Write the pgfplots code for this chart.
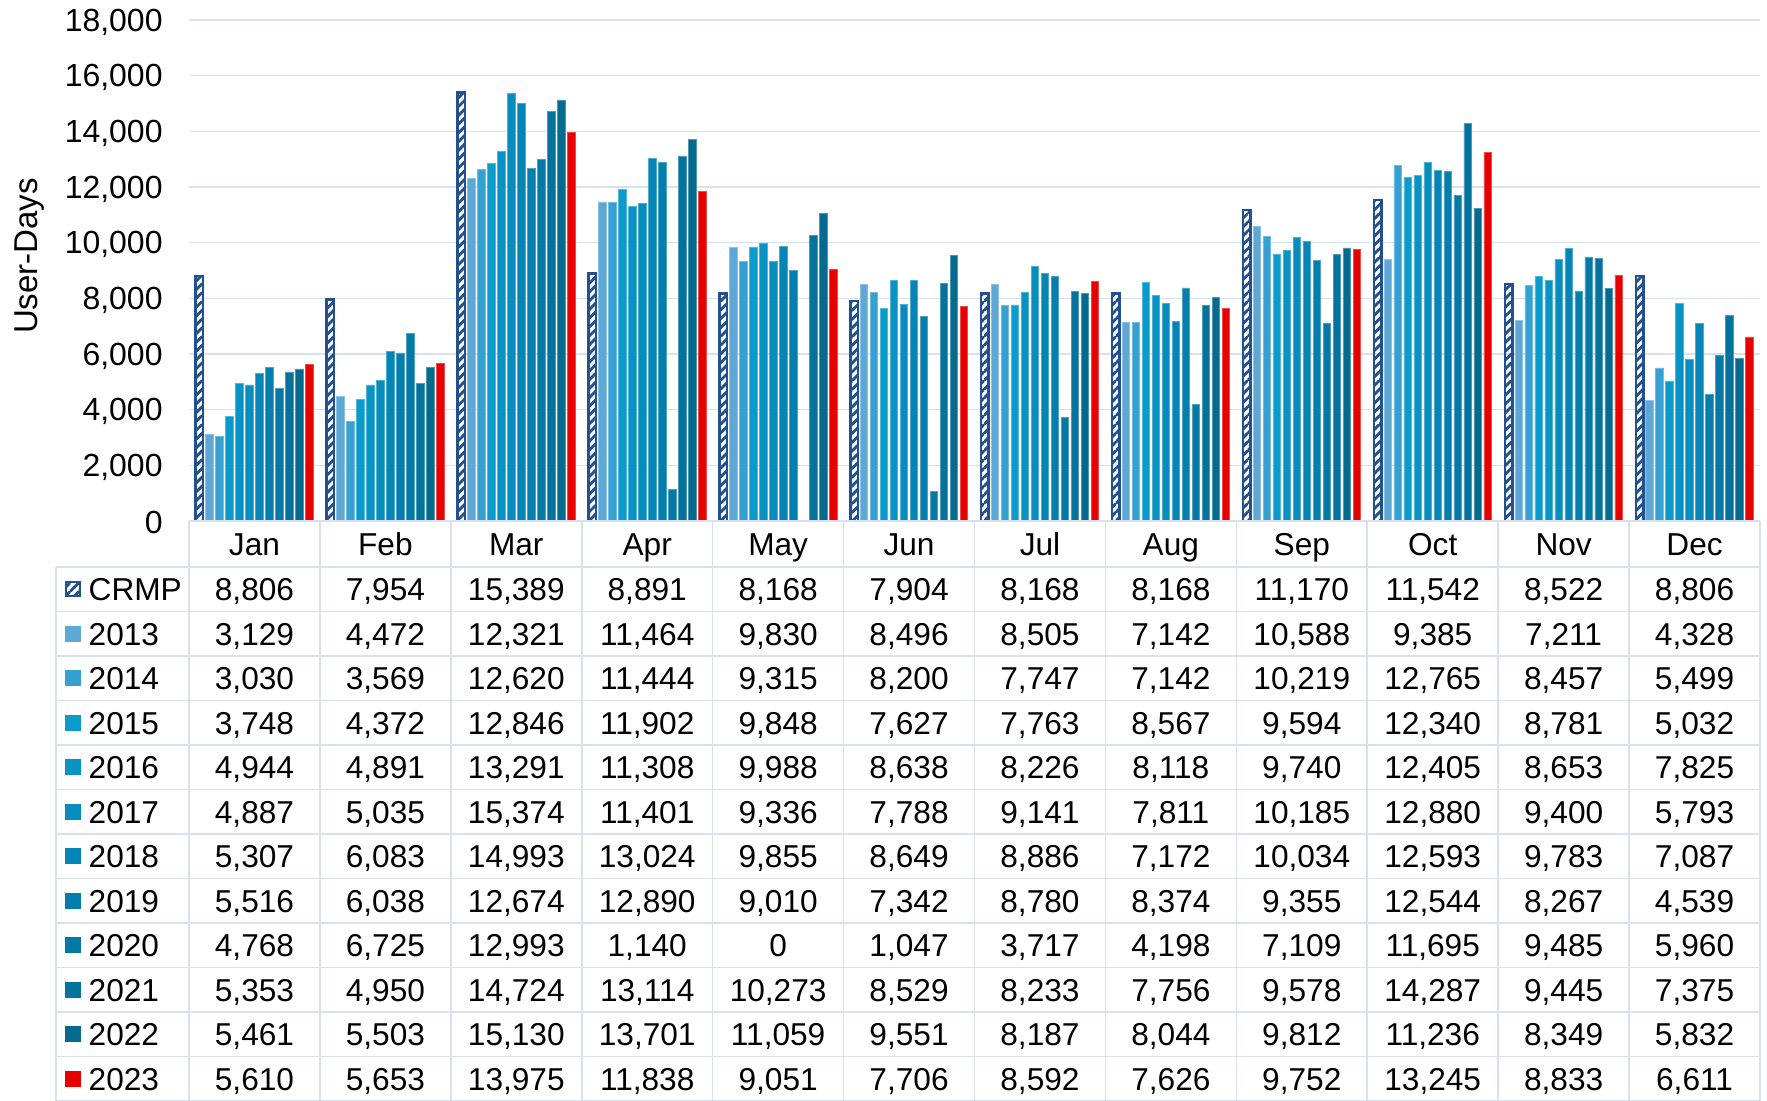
\documentclass[border=0pt]{standalone}
\usepackage{fontspec}
\setmainfont{Liberation Sans}
\usepackage{pgfplots}
\pgfplotsset{compat=1.18}
\usepackage{pgfplotstable}
\usetikzlibrary{patterns.meta}

\definecolor{crmpblue}{HTML}{23508F}
\definecolor{c13}{HTML}{5DA8D5}
\definecolor{c14}{HTML}{35A0D2}
\definecolor{c15}{HTML}{0A9BCD}
\definecolor{c16}{HTML}{0893C5}
\definecolor{c17}{HTML}{068CBD}
\definecolor{c18}{HTML}{0585B5}
\definecolor{c19}{HTML}{047FAD}
\definecolor{c20}{HTML}{0479A5}
\definecolor{c21}{HTML}{03729D}
\definecolor{c22}{HTML}{046A8E}
\definecolor{c23}{HTML}{E60000}
\definecolor{gridc}{HTML}{D6E2F2}

\tikzdeclarepattern{
  name=crmp,
  bottom left={(-0.1pt,-0.1pt)},
  top right={(2.6pt,2.6pt)},
  tile size={(2.5pt,2.5pt)},
  code={\draw[line width=0.8pt] (-0.1pt,-0.1pt) -- (2.6pt,2.6pt);}
}

\pgfplotstableread{
x crmp y13 y14 y15 y16 y17 y18 y19 y20 y21 y22 y23
0 8806 3129 3030 3748 4944 4887 5307 5516 4768 5353 5461 5610
1 7954 4472 3569 4372 4891 5035 6083 6038 6725 4950 5503 5653
2 15389 12321 12620 12846 13291 15374 14993 12674 12993 14724 15130 13975
3 8891 11464 11444 11902 11308 11401 13024 12890 1140 13114 13701 11838
4 8168 9830 9315 9848 9988 9336 9855 9010 0 10273 11059 9051
5 7904 8496 8200 7627 8638 7788 8649 7342 1047 8529 9551 7706
6 8168 8505 7747 7763 8226 9141 8886 8780 3717 8233 8187 8592
7 8168 7142 7142 8567 8118 7811 7172 8374 4198 7756 8044 7626
8 11170 10588 10219 9594 9740 10185 10034 9355 7109 9578 9812 9752
9 11542 9385 12765 12340 12405 12880 12593 12544 11695 14287 11236 13245
10 8522 7211 8457 8781 8653 9400 9783 8267 9485 9445 8349 8833
11 8806 4328 5499 5032 7825 5793 7087 4539 5960 7375 5832 6611
}\datatable

\begin{document}
\begin{tikzpicture}[font=\fontsize{9}{11}\selectfont]
\begin{axis}[
  name=a,
  scale only axis,
  width=157.1mm, height=50.1mm,
  xmin=-0.5, xmax=11.5,
  ymin=0, ymax=18000,
  ytick={0,2000,...,18000},
  xtick=\empty,
  axis line style={draw=none},
  major tick length=0pt,
  ymajorgrids,
  grid style={gridc, line width=0.45pt},
  scaled y ticks=false,
  yticklabel style={/pgf/number format/1000 sep={,}, /pgf/number format/fixed, /pgf/number format/precision=0, /pgf/number format/assume math mode=true, xshift=-1.4mm, yshift=-0.2mm, font=\fontsize{9.1}{10}\selectfont},
  ylabel={User-Days},
  ylabel style={at={(axis description cs:-0.1012,0.529)}, anchor=center, font=\fontsize{9.4}{11}\selectfont},
  ybar=0.25mm,
  bar width=0.75mm,
]
\addplot[fill=white, pattern=crmp, pattern color=crmpblue, draw=crmpblue, line width=0.7pt] table[x=x, y=crmp]{\datatable};
\addplot[fill=c13, draw=c13!70!white, line width=0.2pt] table[x=x, y=y13]{\datatable};
\addplot[fill=c14, draw=c14!70!white, line width=0.2pt] table[x=x, y=y14]{\datatable};
\addplot[fill=c15, draw=c15!70!white, line width=0.2pt] table[x=x, y=y15]{\datatable};
\addplot[fill=c16, draw=c16!70!white, line width=0.2pt] table[x=x, y=y16]{\datatable};
\addplot[fill=c17, draw=c17!70!white, line width=0.2pt] table[x=x, y=y17]{\datatable};
\addplot[fill=c18, draw=c18!70!white, line width=0.2pt] table[x=x, y=y18]{\datatable};
\addplot[fill=c19, draw=c19!70!white, line width=0.2pt] table[x=x, y=y19]{\datatable};
\addplot[fill=c20, draw=c20!70!white, line width=0.2pt] table[x=x, y=y20]{\datatable};
\addplot[fill=c21, draw=c21!70!white, line width=0.2pt] table[x=x, y=y21]{\datatable};
\addplot[fill=c22, draw=c22!70!white, line width=0.2pt] table[x=x, y=y22]{\datatable};
\addplot[fill=c23, draw=c23!70!white, line width=0.2pt] table[x=x, y=y23]{\datatable};
\end{axis}

\begin{scope}[shift={(a.south west)}, x=1mm, y=1mm]
  % table grid
  \draw[gridc, line width=0.45pt] (0,0) -- (157.1,0);
  \foreach \k in {0,...,12} {
    \draw[gridc, line width=0.45pt] (-13.3,{-(4.6+4.45*\k)}) -- (157.1,{-(4.6+4.45*\k)});
  }
  \foreach \j in {0,...,12} {
    \draw[gridc, line width=0.45pt] ({13.0917*\j},0) -- ({13.0917*\j},-58);
  }
  \draw[gridc, line width=0.45pt] (-13.3,-4.6) -- (-13.3,-58);
  % month header
  \foreach \m [count=\i from 0] in {Jan,Feb,Mar,Apr,May,Jun,Jul,Aug,Sep,Oct,Nov,Dec} {
    \node[inner sep=0pt, anchor=base] at ({13.0917*(\i+0.5)},{-2.3-1.15}) {\m};
  }
  % values
  \foreach \c [count=\k from 0] in {crmp,y13,y14,y15,y16,y17,y18,y19,y20,y21,y22,y23} {
    \foreach \i in {0,...,11} {
      \pgfplotstablegetelem{\i}{\c}\of\datatable
      \node[inner sep=0pt, anchor=base] at ({13.0917*(\i+0.5)},{-(4.6+4.45*(\k+0.5))-1.15}) {\pgfmathprintnumber[fixed, precision=0, 1000 sep={,}, assume math mode=true]{\pgfplotsretval}};
    }
  }
  % legend column
  \draw[crmpblue, pattern=crmp, pattern color=crmpblue, line width=0.6pt] (-12.3,{-(4.6+4.45*0.5)-0.7}) rectangle ++(1.4,1.4);
  \node[anchor=base west, inner sep=0pt] at (-10.1,{-(4.6+4.45*0.5)-1.15}) {CRMP};
  \foreach \c/\y [count=\k from 1] in {c13/2013,c14/2014,c15/2015,c16/2016,c17/2017,c18/2018,c19/2019,c20/2020,c21/2021,c22/2022,c23/2023} {
    \fill[\c] (-12.4,{-(4.6+4.45*(\k+0.5))-0.8}) rectangle ++(1.6,1.6);
    \node[anchor=base west, inner sep=0pt] at (-10.1,{-(4.6+4.45*(\k+0.5))-1.15}) {\y};
  }
  \pgfresetboundingbox
  \path (-18.9,-58) rectangle (157.8,52.1);
\end{scope}
\end{tikzpicture}
\end{document}
